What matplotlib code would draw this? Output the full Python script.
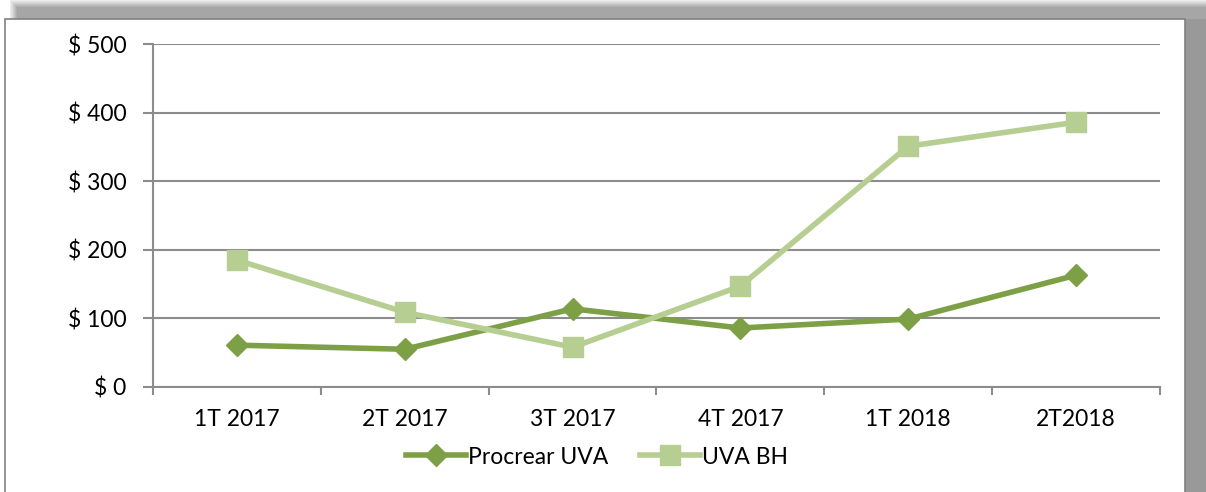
import numpy as np
import matplotlib.pyplot as plt
from matplotlib.patches import Rectangle

plt.rcParams['font.family'] = ['Lato', 'DejaVu Sans']

quarters = ['1T 2017', '2T 2017', '3T 2017', '4T 2017', '1T 2018', '2T2018']
procrear_uva = [61, 55, 114, 86, 99, 163]
uva_bh = [185, 109, 58, 147, 351, 386]
y_ticks = [0, 100, 200, 300, 400, 500]

dark_green = '#7DA047'
light_green = '#B6CE91'
grid_gray = '#8C8C8C'

W, H = 1206, 492
fig = plt.figure(figsize=(W / 100, H / 100), dpi=100)
fig.patch.set_facecolor('white')

# shadow around the chart box
def px_rect(x0, y0, x1, y1, **kw):
    fig.patches.append(Rectangle((x0 / W, 1 - y1 / H), (x1 - x0) / W, (y1 - y0) / H,
                                 transform=fig.transFigure, figure=fig, **kw))

for i in range(8):
    shade = 0.93 - i * 0.04
    px_rect(10 + i, i, W, 20, color=str(shade), lw=0, zorder=0)
px_rect(1185, 19, W, H, color='#999999', lw=0, zorder=0)
px_rect(5, 19, 1185, H + 5, facecolor='white', edgecolor='#808080', lw=1.2, zorder=1)

ax = fig.add_axes([153 / W, 1 - 387 / H, (1160 - 153) / W, (387 - 44) / H])
ax.set_facecolor('none')
ax.set_zorder(2)

x = np.arange(len(quarters))
ax.plot(x, procrear_uva, color=dark_green, lw=4, marker='D', ms=11,
        label='Procrear UVA', zorder=3)
ax.plot(x, uva_bh, color=light_green, lw=4, marker='s', ms=14,
        label='UVA BH', zorder=3)

ax.set_xlim(-0.5, len(quarters) - 0.5)
ax.set_ylim(0, 500)
ax.set_yticks(y_ticks)
ax.set_yticklabels(['$ {}'.format(v) for v in y_ticks])
ax.set_xticks(x)
ax.set_xticklabels(quarters)
ax.set_xticks(np.arange(-0.5, len(quarters)), minor=True)
ax.tick_params(axis='x', which='major', length=0, pad=16, labelsize=16.5)
ax.tick_params(axis='x', which='minor', length=6, width=1.5, color=grid_gray)
ax.tick_params(axis='y', length=7, width=1.5, color=grid_gray, labelsize=16.5, pad=12)

ax.grid(axis='y', color=grid_gray, lw=1.5)
ax.set_axisbelow(True)
for s in ['top', 'right']:
    ax.spines[s].set_visible(False)
for s in ['left', 'bottom']:
    ax.spines[s].set_color(grid_gray)
    ax.spines[s].set_linewidth(1.5)

handles, labels = ax.get_legend_handles_labels()
leg = fig.legend(handles, labels, loc='center', bbox_to_anchor=(597 / W, 1 - 457 / H),
                 ncol=2, frameon=False, fontsize=16.5, handlelength=2.6,
                 handletextpad=0.1, columnspacing=1.4)
leg.set_zorder(3)

fig.savefig('out.png', dpi=100)
